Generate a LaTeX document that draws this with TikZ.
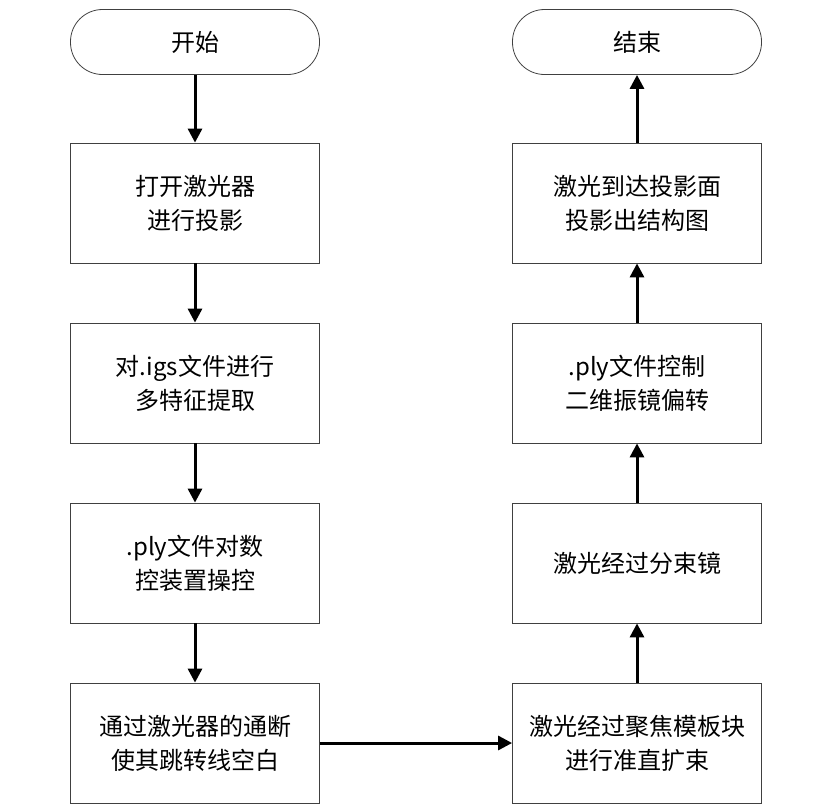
\documentclass[tikz,border=0pt]{standalone}
\usepackage{fontspec}
\setmainfont{Liberation Serif}
\newfontfamily\cjk{Noto Sans CJK SC}
\usetikzlibrary{arrows.meta}
\begin{document}
\begin{tikzpicture}[x=1pt,y=-1pt,
 box/.style={draw=black!75,line width=0.8pt,minimum width=249pt,minimum height=120pt,align=center,font=\cjk\fontsize{24}{34}\selectfont,inner sep=0pt},
 term/.style={box,rounded corners=32pt,minimum height=65pt},
 arr/.style={line width=3pt,-{Triangle[length=14pt,width=14pt]}}]
\useasboundingbox (0,0) rectangle (832,806);
\node[term] (s) at (195,42) {开始};
\node[box] (a) at (195,203) {打开激光器\\进行投影};
\node[box] (b) at (195,383) {对.igs文件进行\\多特征提取};
\node[box] (c) at (195,563) {.ply文件对数\\控装置操控};
\node[box] (d) at (195,743) {通过激光器的通断\\使其跳转线空白};
\node[term] (e) at (637,42) {结束};
\node[box] (f) at (637,203) {激光到达投影面\\投影出结构图};
\node[box] (g) at (637,383) {.ply文件控制\\二维振镜偏转};
\node[box] (h) at (637,563) {激光经过分束镜};
\node[box] (i) at (637,743) {激光经过聚焦模板块\\进行准直扩束};
\draw[arr] (s) -- (a); \draw[arr] (a) -- (b); \draw[arr] (b) -- (c); \draw[arr] (c) -- (d);
\draw[arr] (d) -- (i); \draw[arr] (i) -- (h); \draw[arr] (h) -- (g); \draw[arr] (g) -- (f); \draw[arr] (f) -- (e);
\end{tikzpicture}
\end{document}
